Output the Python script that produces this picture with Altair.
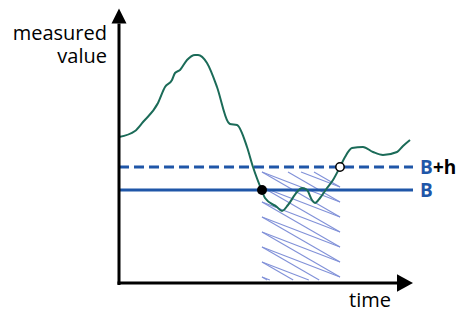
import altair as alt
import pandas as pd

# ---- data (t = time units, v = measured value units) ----
curve_t = [0, 16, 24, 39, 46, 53, 56, 61, 68, 76, 79, 88, 98, 109, 111, 118, 128, 134, 143, 146,
           158, 163, 169, 178, 183, 188, 193, 196, 201, 208, 214, 221, 226, 233, 244, 254, 264, 278, 284, 291]
curve_v = [146, 152, 161, 180, 196, 203, 210, 213, 223, 228, 228, 220, 196, 161, 159, 158, 136, 116, 92, 85,
           76, 72, 78, 91, 95, 93, 83, 80, 85, 95, 103, 116, 126, 135, 136, 131, 128, 131, 137, 143]

B = 93
h = 23
line_end = 294
alarm_start = 143    # curve crosses B (black dot)
alarm_end = 221      # curve crosses B+h (white dot)
hatch_bottom = 3
hatch_top = 111

x_axis_end = 294
y_axis_end = 274.5

x_label = "time"
y_label = "measured\nvalue"

# ---- scales ----
xs = alt.Scale(domain=[-111, 338], nice=False, zero=False)
ys = alt.Scale(domain=[-29, 275], nice=False, zero=False)
X = lambda f: alt.X(f, type="quantitative", scale=xs, axis=None)
Y = lambda f: alt.Y(f, type="quantitative", scale=ys, axis=None)

BLUE = "#1f56a8"
GREEN = "#1b6b58"
HATCH = "#8191d8"

# ---- hatch strokes derived from the region bounds ----
D, s = 45, 15
segs = []
vL = hatch_top + D
def add(ta, va, tb, vb):
    lo, hi = 0.0, 1.0
    if va == vb:
        if not (hatch_bottom <= va <= hatch_top):
            return
    else:
        u1 = (hatch_bottom - va) / (vb - va)
        u2 = (hatch_top - va) / (vb - va)
        lo, hi = max(lo, min(u1, u2)), min(hi, max(u1, u2))
    if lo >= hi:
        return
    segs.append(dict(t=ta + (tb - ta) * lo, v=va + (vb - va) * lo,
                     t2=ta + (tb - ta) * hi, v2=va + (vb - va) * hi))
while vL > hatch_bottom:
    add(alarm_start, vL, alarm_end, vL - D)
    add(alarm_end, vL - D, alarm_start, vL - s)
    vL -= s
hatch_df = pd.DataFrame(segs)

curve_df = pd.DataFrame({"t": curve_t, "v": curve_v})
lines_df = pd.DataFrame({"t": [0, 0], "t2": [line_end, line_end], "v": [B, B + h], "kind": ["B", "B+h"]})

hatch = alt.Chart(hatch_df).mark_rule(color=HATCH, strokeWidth=1.1).encode(
    x=X("t"), y=Y("v"), x2="t2", y2="v2")

b_line = alt.Chart(lines_df[lines_df.kind == "B"]).mark_rule(color=BLUE, strokeWidth=3).encode(
    x=X("t"), x2="t2", y=Y("v"))
bh_line = alt.Chart(lines_df[lines_df.kind == "B+h"]).mark_rule(
    color=BLUE, strokeWidth=3, strokeDash=[10, 5]).encode(x=X("t"), x2="t2", y=Y("v"))

curve = alt.Chart(curve_df).mark_line(color=GREEN, strokeWidth=2, interpolate="monotone").encode(
    x=X("t"), y=Y("v"))

dots_df = pd.DataFrame({"t": [alarm_start, alarm_end], "v": [B, B + h], "kind": ["start", "end"]})
black_dot = alt.Chart(dots_df[dots_df.kind == "start"]).mark_point(
    shape="circle", filled=True, color="black", size=100, opacity=1).encode(x=X("t"), y=Y("v"))
white_dot = alt.Chart(dots_df[dots_df.kind == "end"]).mark_point(
    shape="circle", filled=True, fill="white", stroke="black", strokeWidth=1.5, size=70, opacity=1).encode(
    x=X("t"), y=Y("v"))

axes_df = pd.DataFrame({"t": [0, -1.5], "t2": [0, x_axis_end - 15], "v": [-2, 0], "v2": [y_axis_end - 15, 0]})
axes = alt.Chart(axes_df).mark_rule(color="black", strokeWidth=3).encode(
    x=X("t"), x2="t2", y=Y("v"), y2="v2")

y_arrow = alt.Chart(pd.DataFrame({"t": [0], "v": [y_axis_end - 7.5]})).mark_point(
    shape="M0,-1L1,1L-1,1Z", filled=True, color="black", size=225, opacity=1).encode(x=X("t"), y=Y("v"))
x_arrow = alt.Chart(pd.DataFrame({"t": [x_axis_end - 8], "v": [0]})).mark_point(
    shape="M1,0L-1,-1.1L-1,1.1Z", filled=True, color="black", size=256, opacity=1).encode(x=X("t"), y=Y("v"))

lab_df = pd.DataFrame({"t": [line_end + 7, line_end + 7], "v": [B, B + h], "txt": ["B", "B"]})
b_labels = alt.Chart(lab_df).mark_text(
    align="left", baseline="alphabetic", dy=7, font="Open Sans", fontSize=19, fontWeight="bold", color=BLUE
).encode(x=X("t"), y=Y("v"), text="txt:N")
h_label = alt.Chart(pd.DataFrame({"t": [line_end + 7], "v": [B + h], "txt": ["+h"]})).mark_text(
    align="left", baseline="alphabetic", dx=13, dy=7, font="Open Sans", fontSize=19, fontWeight="bold", color="black"
).encode(x=X("t"), y=Y("v"), text="txt:N")

ylab = alt.Chart(pd.DataFrame({"txt": [y_label]})).mark_text(
    align="right", baseline="alphabetic", font="Open Sans", fontSize=20, color="black",
    lineBreak="\n", lineHeight=23).encode(x=alt.value(99), y=alt.value(32), text="txt:N")
xlab = alt.Chart(pd.DataFrame({"txt": [x_label]})).mark_text(
    align="left", baseline="alphabetic", font="Open Sans", fontSize=20, color="black"
).encode(x=alt.value(341), y=alt.value(299), text="txt:N")

chart = alt.layer(hatch, b_line, bh_line, curve, axes, y_arrow, x_arrow, black_dot, white_dot,
                  b_labels, h_label, ylab, xlab).properties(
    width=449, height=304, padding=0, autosize=alt.AutoSizeParams(type="none"),
    background="white"
).configure_view(stroke=None)

chart.save("out.html", embed_options={"renderer": "svg", "actions": False})
